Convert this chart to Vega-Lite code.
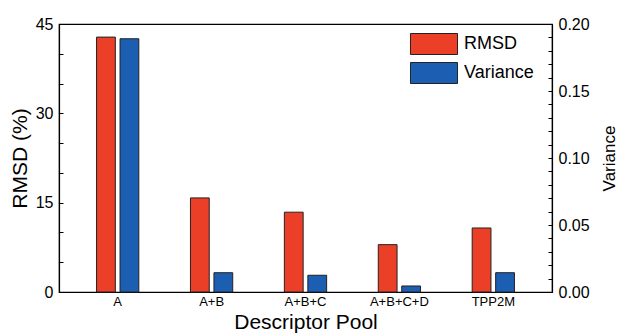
{
  "$schema": "https://vega.github.io/schema/vega-lite/v6.json",
  "autosize": {"type": "none"},
  "padding": {"left": 59, "top": 24, "right": 67, "bottom": 43},
  "width": 493,
  "height": 268,
  "config": {
    "font": "Liberation Sans",
    "view": {"stroke": "black", "strokeWidth": 1.2},
    "axis": {"domainColor": "black", "tickColor": "black", "labelColor": "black", "titleColor": "black", "grid": false, "titleFontWeight": "normal", "domainWidth": 1.2}
  },
  "data": {
    "values": [
      {"pool": "A", "metric": "RMSD", "value": 42.8},
      {"pool": "A", "metric": "Variance", "value": 0.189},
      {"pool": "A+B", "metric": "RMSD", "value": 15.8},
      {"pool": "A+B", "metric": "Variance", "value": 0.0144},
      {"pool": "A+B+C", "metric": "RMSD", "value": 13.4},
      {"pool": "A+B+C", "metric": "Variance", "value": 0.0125},
      {"pool": "A+B+C+D", "metric": "RMSD", "value": 7.95},
      {"pool": "A+B+C+D", "metric": "Variance", "value": 0.0045},
      {"pool": "TPP2M", "metric": "RMSD", "value": 10.75},
      {"pool": "TPP2M", "metric": "Variance", "value": 0.0144}
    ]
  },
  "encoding": {
    "x": {
      "field": "pool", "type": "nominal", "sort": null,
      "scale": {"paddingInner": 0.5, "paddingOuter": 0.375},
      "axis": {"title": "Descriptor Pool", "titleFontSize": 21, "titlePadding": 3, "labelAngle": 0, "labelFontSize": 13, "labelPadding": 3, "tickSize": 0, "ticks": false}
    },
    "xOffset": {
      "field": "metric", "type": "nominal",
      "scale": {"domain": ["RMSD", "Variance"], "paddingInner": 0.2, "paddingOuter": 0.1}
    },
    "color": {
      "field": "metric", "type": "nominal",
      "scale": {"domain": ["RMSD", "Variance"], "range": ["#ec3f28", "#1c5eb2"]},
      "legend": {
        "title": null, "orient": "none", "legendX": 364, "legendY": 9,
        "padding": 0, "rowPadding": 3, "labelFontSize": 18, "labelOffset": 19,
        "symbolType": "M-2.24,-1L2.24,-1L2.24,1L-2.24,1Z", "symbolSize": 441,
        "symbolStrokeColor": "#222", "symbolStrokeWidth": 1, "symbolOpacity": 1, "labelColor": "black"
      }
    }
  },
  "layer": [
    {
      "transform": [{"filter": "datum.metric === 'RMSD'"}],
      "mark": {"type": "bar", "stroke": "#222", "strokeWidth": 1, "opacity": 1},
      "encoding": {
        "y": {
          "field": "value", "type": "quantitative",
          "scale": {"domain": [0, 45], "nice": false},
          "axis": {
            "title": "RMSD (%)", "titleFontSize": 21, "titlePadding": 5,
            "values": [0, 5, 10, 15, 20, 25, 30, 35, 40, 45],
            "labelExpr": "datum.value % 15 === 0 ? datum.label : ''",
            "labelFontSize": 16, "tickSize": -4, "labelPadding": 10
          }
        }
      }
    },
    {
      "transform": [{"filter": "datum.metric === 'Variance'"}],
      "mark": {"type": "bar", "stroke": "#222", "strokeWidth": 1, "opacity": 1},
      "encoding": {
        "y": {
          "field": "value", "type": "quantitative",
          "scale": {"domain": [0, 0.2], "nice": false},
          "axis": {
            "orient": "right", "title": "Variance", "titleFontSize": 17, "titlePadding": 12, "titleAngle": 270, "titleBaseline": "top",
            "values": [0, 0.01, 0.02, 0.03, 0.04, 0.05, 0.06, 0.07, 0.08, 0.09, 0.1, 0.11, 0.12, 0.13, 0.14, 0.15, 0.16, 0.17, 0.18, 0.19, 0.2],
            "labelExpr": "abs(datum.value*20 - round(datum.value*20)) < 0.001 ? format(datum.value, '.2f') : ''",
            "labelFontSize": 16, "tickSize": -4, "labelPadding": 10
          }
        }
      }
    }
  ],
  "resolve": {"scale": {"y": "independent"}}
}
